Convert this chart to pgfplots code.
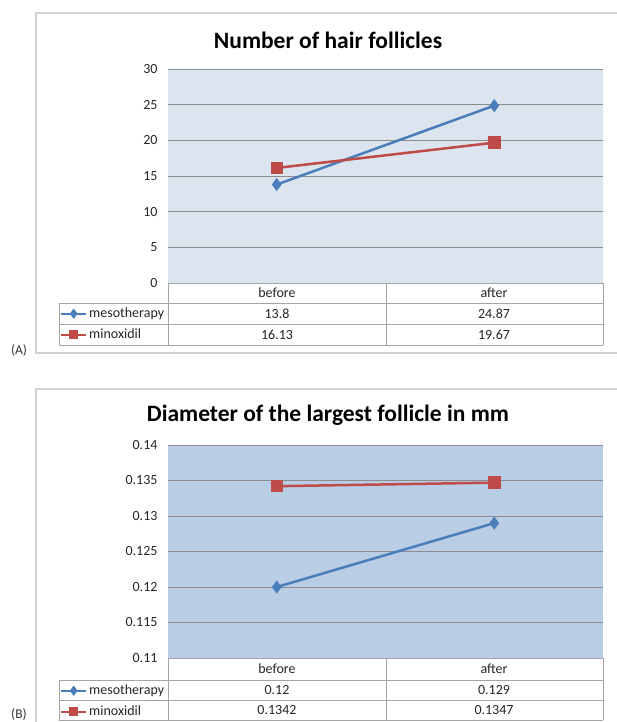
\documentclass[border=0pt]{standalone}
\usepackage{fontspec}
\setmainfont{Carlito}
\usepackage{pgfplots}
\pgfplotsset{compat=1.18}

\definecolor{blueL}{HTML}{4A7EBB}
\definecolor{redL}{HTML}{BE4B48}
\definecolor{bgA}{HTML}{DCE4EF}
\definecolor{bgB}{HTML}{B9CDE5}
\definecolor{gridC}{HTML}{8C8C8C}
\definecolor{tabC}{HTML}{A5A5A5}
\definecolor{frameC}{HTML}{D0D0D0}

\pgfplotsset{
  excelline/.style={
    scale only axis, width=435pt, height=214pt,
    xmin=-0.5, xmax=1.5, xtick=\empty,
    axis line style={draw=none}, major tick length=0pt,
    ymajorgrids, major grid style={gridC, line width=0.9pt},
    tick label style={font=\fontsize{14}{16}\selectfont, text=black!85},
    yticklabel style={xshift=-7pt},
    clip=false,
    legend cell align=left,
    legend image code/.code={
      \draw[mark repeat=2,mark phase=2,##1] plot coordinates {(0pt,0pt) (12.5pt,0pt) (25pt,0pt)};
    },
    legend image post style={mark size=3.5pt, line width=2pt},
    legend style={
      at={(axis description cs:-0.2483,-0.0935)}, anchor=north west,
      draw=none, fill=none, inner sep=0pt, row sep=0pt,
      /tikz/every odd column/.append style={column sep=2pt},
      nodes={inner xsep=0pt, inner ysep=0pt, minimum height=21pt,
             font=\fontsize{14}{16}\selectfont, text=black!85},
    },
  },
  meso/.style={blueL, line width=2.5pt, mark=diamond*, mark size=4.5pt,
               mark options={solid, fill=blueL}},
  mino/.style={redL, line width=2.5pt, mark=square*, mark size=5pt,
               mark options={solid, fill=redL}},
}

\begin{document}
\begin{tikzpicture}
\useasboundingbox (0pt,0pt) rectangle (617pt,-722pt);

% chart frames
\draw[frameC, line width=1.5pt] (36pt,-13pt) rectangle (630pt,-353pt);
\draw[frameC, line width=1.5pt] (36pt,-389pt) rectangle (630pt,-740pt);

\node[font=\fontsize{13.5}{16}\selectfont, text=black!80] at (19pt,-350pt) {(A)};
\node[font=\fontsize{13.5}{16}\selectfont, text=black!80] at (19pt,-714pt) {(B)};

% ---------- (A) ----------
\node[font=\fontsize{23.5}{27}\selectfont\bfseries] at (328pt,-40pt) {Number of hair follicles};
\begin{axis}[excelline, at={(168pt,-283pt)}, anchor=south west,
    axis background/.style={fill=bgA},
    ymin=0, ymax=30,
    ytick={0,5,10,15,20,25,30},
    yticklabels={0,5,10,15,20,25,30}]
  \addplot[meso] coordinates {(0,13.8) (1,24.87)};
  \addlegendentry{mesotherapy}
  \addplot[mino] coordinates {(0,16.13) (1,19.67)};
  \addlegendentry{minoxidil}
\end{axis}
% data table (A)
\begin{scope}[tabC, line width=0.8pt]
  \draw (168pt,-283pt) -- (603pt,-283pt);
  \draw (59pt,-303pt) -- (603pt,-303pt);
  \draw (59pt,-324pt) -- (603pt,-324pt);
  \draw (59pt,-345pt) -- (603pt,-345pt);
  \draw (59pt,-303pt) -- (59pt,-345pt);
  \draw (168pt,-283pt) -- (168pt,-345pt);
  \draw (386pt,-283pt) -- (386pt,-345pt);
  \draw (603pt,-283pt) -- (603pt,-345pt);
\end{scope}
\begin{scope}[every node/.style={font=\fontsize{14}{16}\selectfont, text=black!85}]
  \node at (277pt,-293pt) {before};
  \node at (494pt,-293pt) {after};
  \node at (277pt,-313.5pt) {13.8};
  \node at (494pt,-313.5pt) {24.87};
  \node at (277pt,-334.5pt) {16.13};
  \node at (494pt,-334.5pt) {19.67};
\end{scope}

% ---------- (B) ----------
\node[font=\fontsize{23.5}{27}\selectfont\bfseries] at (328pt,-415pt) {Diameter of the largest follicle in mm};
\begin{axis}[excelline, at={(168pt,-658pt)}, anchor=south west,
    height=213pt,
    axis background/.style={fill=bgB},
    ymin=0.11, ymax=0.14,
    ytick={0.11,0.115,0.12,0.125,0.13,0.135,0.14},
    yticklabels={0.11,0.115,0.12,0.125,0.13,0.135,0.14},
    legend style={at={(axis description cs:-0.2483,-0.1033)}}]
  \addplot[meso] coordinates {(0,0.12) (1,0.129)};
  \addlegendentry{mesotherapy}
  \addplot[mino] coordinates {(0,0.1342) (1,0.1347)};
  \addlegendentry{minoxidil}
\end{axis}
% data table (B)
\begin{scope}[tabC, line width=0.8pt]
  \draw (168pt,-658pt) -- (603pt,-658pt);
  \draw (59pt,-680pt) -- (603pt,-680pt);
  \draw (59pt,-700pt) -- (603pt,-700pt);
  \draw (59pt,-720pt) -- (603pt,-720pt);
  \draw (59pt,-680pt) -- (59pt,-720pt);
  \draw (168pt,-658pt) -- (168pt,-720pt);
  \draw (386pt,-658pt) -- (386pt,-720pt);
  \draw (603pt,-658pt) -- (603pt,-720pt);
\end{scope}
\begin{scope}[every node/.style={font=\fontsize{14}{16}\selectfont, text=black!85}]
  \node at (277pt,-669pt) {before};
  \node at (494pt,-669pt) {after};
  \node at (277pt,-690pt) {0.12};
  \node at (494pt,-690pt) {0.129};
  \node at (277pt,-710pt) {0.1342};
  \node at (494pt,-710pt) {0.1347};
\end{scope}
\end{tikzpicture}
\end{document}
